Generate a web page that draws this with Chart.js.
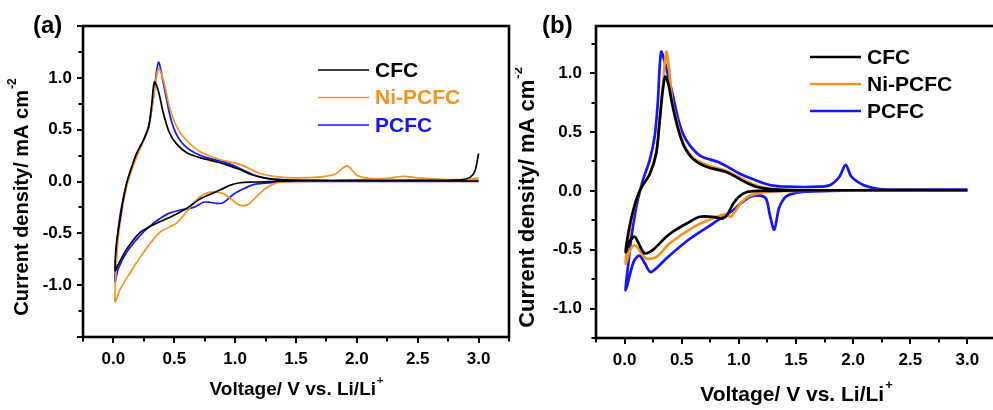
<!DOCTYPE html>
<html>
<head>
<meta charset="utf-8">
<script src="https://cdn.jsdelivr.net/npm/chart.js@4/dist/chart.umd.min.js"></script>
<style>
  html, body { margin: 0; padding: 0; background: #fff; overflow: hidden; width: 993px; height: 410px; }
  canvas { position: absolute; top: 0; }
  #chartA { left: 0; }
  #chartB { left: 515px; }
</style>
</head>
<body>
<canvas id="chartA" width="515" height="410"></canvas>
<canvas id="chartB" width="485" height="410"></canvas>
<script>
// series names + colours
const seriesNames = ["CFC", "Ni-PCFC", "PCFC"];
const seriesColors = ["#000000", "#f7921e", "#1414ff"];

// tick labels
const xTickVals = [0.0, 0.5, 1.0, 1.5, 2.0, 2.5, 3.0];
const yTickVals = [-1.0, -0.5, 0.0, 0.5, 1.0];

// ---- panel (a) : voltage (V) / current density (mA cm-2), cathodic scan then anodic scan
const aCfcV = [3.0, 2.5, 2.0, 1.5, 1.3, 1.15, 1.04, 0.95, 0.88, 0.8, 0.71, 0.6, 0.49, 0.36, 0.22, 0.11, 0.04, 0.014,
  0.025, 0.055, 0.08, 0.11, 0.15, 0.19, 0.247, 0.29, 0.315, 0.337, 0.37, 0.41, 0.46, 0.52, 0.6, 0.71, 0.88, 1.04, 1.15, 1.26, 1.4, 1.6, 2.0, 2.5, 2.85, 2.93, 2.97, 3.0];
const aCfcI = [0.005, 0.005, 0.005, 0.005, 0.0, -0.005, -0.012, -0.04, -0.08, -0.12, -0.17, -0.26, -0.33, -0.40, -0.49, -0.65, -0.80, -0.86,
  -0.6, -0.36, -0.18, -0.01, 0.14, 0.27, 0.40, 0.53, 0.75, 0.96, 0.87, 0.66, 0.47, 0.36, 0.28, 0.23, 0.18, 0.115, 0.06, 0.03, 0.015, 0.01, 0.01, 0.01, 0.015, 0.04, 0.1, 0.27];

const aNiV = [3.0, 2.5, 2.0, 1.5, 1.35, 1.26, 1.18, 1.12, 1.07, 1.02, 0.99, 0.9, 0.82, 0.74, 0.68, 0.63, 0.52, 0.38, 0.25, 0.14, 0.055, 0.014,
  0.02, 0.035, 0.06, 0.09, 0.12, 0.16, 0.2, 0.25, 0.29, 0.325, 0.37, 0.41, 0.46, 0.52, 0.59, 0.71, 0.88, 1.04, 1.2, 1.35, 1.5, 1.7, 1.82, 1.92, 2.0, 2.1, 2.25, 2.38, 2.5, 2.7, 2.9, 3.0];
const aNiI = [0.01, 0.005, 0.005, 0.0, -0.01, -0.06, -0.14, -0.21, -0.235, -0.22, -0.19, -0.115, -0.10, -0.125, -0.18, -0.25, -0.40, -0.49, -0.68, -0.875, -1.04, -1.16,
  -0.9, -0.6, -0.35, -0.15, 0.0, 0.14, 0.26, 0.40, 0.52, 0.78, 1.09, 0.98, 0.72, 0.53, 0.41, 0.29, 0.21, 0.165, 0.08, 0.045, 0.035, 0.045, 0.07, 0.15, 0.06, 0.03, 0.03, 0.05, 0.035, 0.02, 0.02, 0.035];

const aPcV = [3.0, 2.5, 2.0, 1.5, 1.3, 1.2, 1.15, 1.07, 0.99, 0.93, 0.89, 0.84, 0.79, 0.74, 0.66, 0.55, 0.45, 0.38, 0.3, 0.22, 0.11, 0.04, 0.014,
  0.02, 0.04, 0.07, 0.11, 0.15, 0.19, 0.247, 0.29, 0.33, 0.37, 0.41, 0.466, 0.52, 0.6, 0.74, 0.93, 1.04, 1.15, 1.26, 1.4, 1.6, 2.0, 2.5, 3.0];
const aPcI = [0.0, 0.0, 0.0, 0.0, -0.01, -0.02, -0.03, -0.07, -0.12, -0.18, -0.21, -0.21, -0.2, -0.2, -0.25, -0.275, -0.31, -0.36, -0.43, -0.52, -0.68, -0.84, -0.97,
  -0.75, -0.45, -0.22, -0.02, 0.13, 0.26, 0.40, 0.53, 0.82, 1.15, 0.95, 0.63, 0.45, 0.33, 0.24, 0.18, 0.125, 0.065, 0.03, 0.015, 0.01, 0.01, 0.01, 0.01];

// ---- panel (b)
const bCfcV = [3.0, 2.0, 1.5, 1.3, 1.19, 1.07, 1.0, 0.95, 0.9, 0.86, 0.8, 0.66, 0.54, 0.45, 0.365, 0.25, 0.175, 0.12, 0.09, 0.05, 0.01,
  0.04, 0.08, 0.12, 0.16, 0.22, 0.277, 0.306, 0.33, 0.355, 0.385, 0.42, 0.47, 0.52, 0.6, 0.715, 0.89, 1.065, 1.15, 1.3, 1.5, 2.0, 3.0];
const bCfcI = [0.005, 0.005, 0.003, 0.0, 0.0, -0.01, -0.05, -0.11, -0.2, -0.235, -0.225, -0.22, -0.28, -0.33, -0.39, -0.5, -0.53, -0.44, -0.39, -0.42, -0.52,
  -0.32, -0.15, -0.03, 0.05, 0.14, 0.32, 0.58, 0.82, 0.97, 0.9, 0.72, 0.52, 0.38, 0.27, 0.205, 0.16, 0.07, 0.035, 0.012, 0.005, 0.005, 0.005];

const bNiV = [3.0, 2.0, 1.5, 1.3, 1.2, 1.1, 1.03, 0.97, 0.93, 0.88, 0.77, 0.6, 0.39, 0.28, 0.19, 0.12, 0.09, 0.05, 0.01,
  0.04, 0.08, 0.12, 0.16, 0.22, 0.277, 0.306, 0.335, 0.365, 0.39, 0.42, 0.47, 0.52, 0.6, 0.72, 0.89, 1.07, 1.2, 1.35, 1.6, 3.0];
const bNiI = [0.005, 0.005, 0.0, -0.005, -0.015, -0.04, -0.09, -0.17, -0.22, -0.2, -0.235, -0.31, -0.45, -0.56, -0.575, -0.49, -0.46, -0.5, -0.62,
  -0.36, -0.16, -0.03, 0.05, 0.14, 0.32, 0.6, 0.885, 1.18, 1.03, 0.74, 0.545, 0.39, 0.28, 0.22, 0.17, 0.08, 0.03, 0.01, 0.005, 0.005];

const bPcV = [3.0, 2.5, 2.0, 1.56, 1.45, 1.4, 1.35, 1.31, 1.27, 1.24, 1.19, 1.1, 1.0, 0.95, 0.77, 0.54, 0.365, 0.23, 0.18, 0.13, 0.08, 0.01,
  0.035, 0.06, 0.1, 0.13, 0.17, 0.22, 0.263, 0.29, 0.32, 0.36, 0.42, 0.48, 0.54, 0.66, 0.83, 1.0, 1.12, 1.27, 1.42, 1.7, 1.8, 1.88, 1.935, 1.985, 2.09, 2.23, 2.5, 3.0];
const bPcI = [0.005, 0.005, 0.003, -0.01, -0.03, -0.06, -0.15, -0.33, -0.2, -0.07, -0.04, -0.05, -0.12, -0.165, -0.28, -0.43, -0.575, -0.69, -0.62, -0.55, -0.6, -0.845,
  -0.6, -0.39, -0.15, -0.02, 0.12, 0.26, 0.46, 0.74, 1.18, 1.06, 0.82, 0.57, 0.43, 0.3, 0.24, 0.15, 0.1, 0.05, 0.035, 0.035, 0.05, 0.12, 0.22, 0.12, 0.05, 0.015, 0.01, 0.01];

function pts(vs, is) {
  return vs.map((v, i) => ({ x: v, y: is[i] }));
}

const FONT = "'Liberation Sans', Arial, sans-serif";

// frame, minor/major ticks, titles, legend
const decoPlugin = {
  id: 'deco',
  afterDraw(chart, args, o) {
    const { ctx, chartArea: a, scales: { x, y } } = chart;
    ctx.save();
    ctx.strokeStyle = '#000';
    ctx.lineWidth = 2;
    for (let v = x.min; v <= x.max + 1e-9; v += 0.25) {
      const px = Math.round(x.getPixelForValue(v));
      const major = Math.abs(v * 2 - Math.round(v * 2)) < 1e-6;
      ctx.beginPath();
      ctx.moveTo(px, a.bottom);
      ctx.lineTo(px, a.bottom + (major ? 6 : 4.5));
      ctx.stroke();
    }
    for (let v = y.min; v <= y.max + 1e-9; v += 0.25) {
      const py = Math.round(y.getPixelForValue(v));
      const major = Math.abs(v * 2 - Math.round(v * 2)) < 1e-6;
      ctx.beginPath();
      ctx.moveTo(a.left, py);
      ctx.lineTo(a.left - (major ? 6 : 4.5), py);
      ctx.stroke();
    }
    ctx.lineWidth = 2.6;
    ctx.strokeRect(a.left, a.top, a.right - a.left, a.bottom - a.top);

    ctx.fillStyle = '#000';
    ctx.textBaseline = 'middle';

    // panel label
    ctx.font = 'bold 24px ' + FONT;
    ctx.textAlign = 'left';
    ctx.fillText(o.label, o.labelX, 26);

    // x title with superscript
    ctx.font = 'bold ' + o.xFont + 'px ' + FONT;
    const xMain = 'Voltage/ V vs. Li/Li';
    const wMain = ctx.measureText(xMain).width;
    ctx.font = 'bold ' + Math.round(o.xFont * 0.6) + 'px ' + FONT;
    const wSup = ctx.measureText('+').width;
    const cx = (a.left + a.right) / 2;
    const x0 = cx - (wMain + wSup) / 2;
    ctx.font = 'bold ' + o.xFont + 'px ' + FONT;
    ctx.fillText(xMain, x0, o.xTitleY);
    ctx.font = 'bold ' + Math.round(o.xFont * 0.6) + 'px ' + FONT;
    ctx.fillText('+', x0 + wMain + 1, o.xTitleY - o.xFont * 0.45);

    // y title rotated
    ctx.save();
    ctx.translate(o.yTitleX, (a.top + a.bottom) / 2 + o.yShift);
    ctx.rotate(-Math.PI / 2);
    ctx.font = 'bold ' + o.yFont + 'px ' + FONT;
    const yMain = 'Current density/ mA cm';
    const wy = ctx.measureText(yMain).width;
    ctx.font = 'bold ' + Math.round(o.yFont * 0.6) + 'px ' + FONT;
    const wys = ctx.measureText('-2').width;
    const y0 = -(wy + wys) / 2;
    ctx.font = 'bold ' + o.yFont + 'px ' + FONT;
    ctx.fillText(yMain, y0, 0);
    ctx.font = 'bold ' + Math.round(o.yFont * 0.6) + 'px ' + FONT;
    ctx.fillText('-2', y0 + wy + 1, -o.yFont * 0.45);
    ctx.restore();

    // legend
    chart.data.datasets.forEach((ds, i) => {
      const ly = o.legY + i * o.legGap;
      ctx.strokeStyle = ds.borderColor;
      ctx.lineWidth = ds.borderWidth;
      ctx.beginPath();
      ctx.moveTo(o.legX, ly);
      ctx.lineTo(o.legX + 51, ly);
      ctx.stroke();
      ctx.fillStyle = o.legColored ? ds.borderColor : '#000';
      ctx.font = 'bold 21px ' + FONT;
      ctx.fillText(ds.label, o.legX + 57, ly + 1);
    });
    ctx.restore();
  }
};

function makePanel(id, series, lw, yMin, yMax, yWidth, xHeight, pad, deco) {
  new Chart(document.getElementById(id), {
    type: 'scatter',
    data: {
      datasets: series.map((s, i) => ({
        label: seriesNames[i],
        data: s,
        showLine: true,
        borderColor: seriesColors[i],
        backgroundColor: seriesColors[i],
        borderWidth: lw,
        pointRadius: 0,
        tension: 0.3,
        fill: false
      }))
    },
    options: {
      responsive: false,
      animation: false,
      devicePixelRatio: 1,
      layout: { padding: pad },
      plugins: { legend: { display: false }, tooltip: { enabled: false }, deco: deco },
      scales: {
        x: {
          type: 'linear', min: -0.25, max: 3.25,
          grid: { display: false }, border: { display: false },
          afterBuildTicks: s => { s.ticks = xTickVals.map(v => ({ value: v })); },
          afterFit: s => { s.height = xHeight; },
          ticks: { color: '#000', padding: deco.xPad, font: { family: FONT, size: 17, weight: 'bold' }, callback: v => v.toFixed(1) }
        },
        y: {
          type: 'linear', min: yMin, max: yMax,
          grid: { display: false }, border: { display: false },
          afterBuildTicks: s => { s.ticks = yTickVals.map(v => ({ value: v })); },
          afterFit: s => { s.width = yWidth; },
          ticks: { color: '#000', padding: deco.yPad, font: { family: FONT, size: 17, weight: 'bold' }, callback: v => v.toFixed(1) }
        }
      }
    },
    plugins: [decoPlugin]
  });
}

makePanel('chartA', [pts(aCfcV, aCfcI), pts(aNiV, aNiI), pts(aPcV, aPcI)], 1.7, -1.5, 1.5, 83, 73,
  { left: 0, right: 6, top: 26, bottom: 0 },
  { label: '(a)', labelX: 33, xFont: 19, xTitleY: 390, xPad: 4, yPad: 3, yFont: 20, yTitleX: 22, yShift: 16, legX: 318, legY: 70, legGap: 27.5, legColored: true });

makePanel('chartB', [pts(bCfcV, bCfcI), pts(bNiV, bNiI), pts(bPcV, bPcI)], 2.7, -1.25, 1.4, 81, 72,
  { left: 0, right: 4, top: 26, bottom: 0 },
  { label: '(b)', labelX: 27, xFont: 21, xTitleY: 395, xPad: 4, yPad: 6, yFont: 22, yTitleX: 13, yShift: 16, legX: 295, legY: 57, legGap: 27, legColored: false });
</script>
</body>
</html>
